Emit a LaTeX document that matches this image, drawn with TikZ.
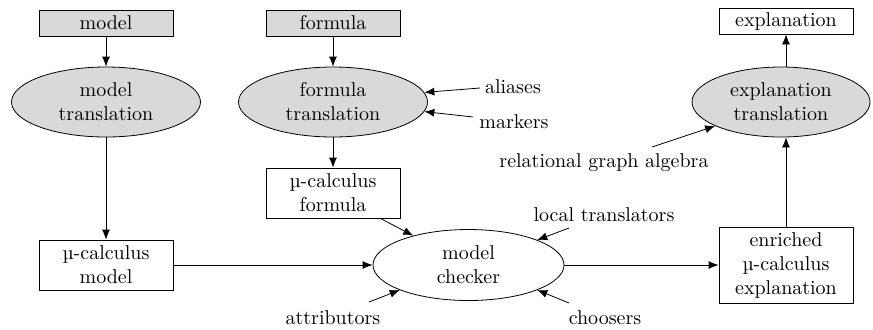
\documentclass[tikz,border=0pt]{standalone}
\usetikzlibrary{shapes.geometric,arrows.meta}
\definecolor{boxgray}{RGB}{217,217,217}
\begin{document}
\begin{tikzpicture}[x=0.5pt,y=-0.5pt,
  gbox/.style={draw, fill=boxgray, minimum width=67pt, minimum height=13pt, inner sep=0pt},
  wbox/.style={draw, align=center, minimum width=67pt, inner sep=0pt},
  gell/.style={ellipse, draw, fill=boxgray, align=center, minimum width=94.5pt, minimum height=35pt, inner sep=0pt},
  well/.style={ellipse, draw, align=center, minimum width=95.5pt, minimum height=35.5pt, inner sep=0pt},
  lbl/.style={inner sep=0pt},
  arr/.style={-{Latex[length=5pt,width=4pt]}}]
\useasboundingbox (0,0) rectangle (873,329);
% nodes
\node[gbox] (m) at (106,23) {model};
\node[gbox] (f) at (333,23) {formula};
\node[gell] (mt) at (106,102) {model\\translation};
\node[gell] (ft) at (333,102) {formula\\translation};
\node[wbox, minimum height=25pt] (muf) at (333,193) {µ-calculus\\formula};
\node[wbox, minimum height=25pt] (mum) at (106,265) {µ-calculus\\model};
\node[well] (mc) at (468.5,265) {model\\checker};
\node[wbox, minimum height=38pt] (en) at (786,265) {enriched\\µ-calculus\\explanation};
\node[gell, minimum width=89pt] (et) at (781,102) {explanation\\translation};
\node[wbox, minimum height=13pt] (ex) at (786,21) {explanation};
% labels
\node[lbl] (al) at (513,87) {aliases};
\node[lbl] (mk) at (514,122) {markers};
\node[lbl] (rg) at (604,163) {relational graph algebra};
\node[lbl] (lt) at (604,215) {local translators};
\node[lbl] (at) at (333,318) {attributors};
\node[lbl] (ch) at (605,318) {choosers};
% free ends
\coordinate (als) at (480,88);
\coordinate (mks) at (473,117);
\coordinate (rgs) at (652,147);
\coordinate (lts) at (569,228);
\coordinate (ats) at (369,302);
\coordinate (chs) at (569,303);
% main connectors
\draw[arr] (m) -- (mt);
\draw[arr] (f) -- (ft);
\draw[arr] (mt) -- (mum);
\draw[arr] (ft) -- (muf);
\draw[arr] (mum) -- (mc);
\draw[arr] ([xshift=-10pt]muf.south east) -- (mc.152);
\draw[arr] (mc) -- (en);
\draw[arr] (en.north) -- (en.north |- et.south);
\draw[arr] (en.north |- et.north) -- (ex.south);
% input arrows
\draw[arr] (als) -- (ft.6);
\draw[arr] (mks) -- (ft.-6);
\draw[arr] (rgs) -- (et.200);
\draw[arr] (lts) -- (mc.20);
\draw[arr] (ats) -- (mc.200);
\draw[arr] (chs) -- (mc.-20);
\end{tikzpicture}
\end{document}
